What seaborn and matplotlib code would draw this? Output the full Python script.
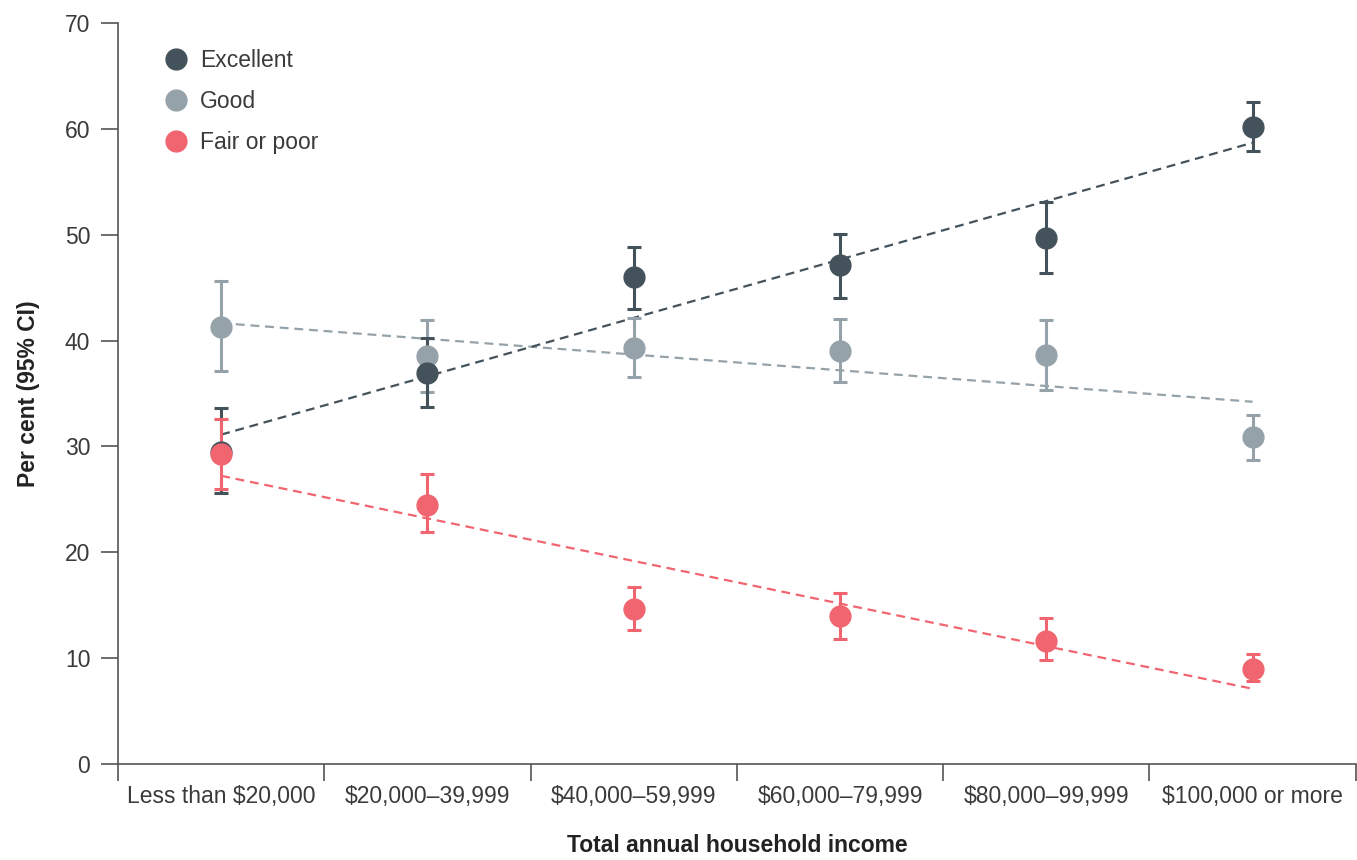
import matplotlib
matplotlib.use('Agg')
import matplotlib.pyplot as plt
from matplotlib.lines import Line2D
import seaborn as sns
import numpy as np
import pandas as pd

# Data
income_groups = ['Less than $20,000', '$20,000\u201339,999', '$40,000\u201359,999',
                 '$60,000\u201379,999', '$80,000\u201399,999', '$100,000 or more']

excellent = [29.5, 36.9, 46.0, 47.1, 49.7, 60.2]
excellent_lo = [25.6, 33.7, 43.0, 44.0, 46.4, 57.9]
excellent_hi = [33.6, 40.2, 48.8, 50.1, 53.1, 62.5]

good = [41.3, 38.5, 39.3, 39.0, 38.6, 30.9]
good_lo = [37.1, 35.1, 36.6, 36.1, 35.3, 28.7]
good_hi = [45.6, 41.9, 42.1, 42.0, 41.9, 33.0]

fair_poor = [29.3, 24.5, 14.6, 14.0, 11.6, 9.0]
fair_poor_lo = [26.0, 21.9, 12.7, 11.8, 9.8, 7.8]
fair_poor_hi = [32.6, 27.4, 16.7, 16.2, 13.8, 10.4]

series_names = ['Excellent', 'Good', 'Fair or poor']
colors = {'Excellent': '#44525c', 'Good': '#96a2aa', 'Fair or poor': '#f0656f'}

frames = []
for name, vals, lo, hi in [('Excellent', excellent, excellent_lo, excellent_hi),
                           ('Good', good, good_lo, good_hi),
                           ('Fair or poor', fair_poor, fair_poor_lo, fair_poor_hi)]:
    frames.append(pd.DataFrame({'pos': np.arange(len(income_groups)), 'income': income_groups,
                                'series': name, 'value': vals, 'lo': lo, 'hi': hi}))
df = pd.concat(frames, ignore_index=True)

sns.set_style('white')
plt.rcParams['font.family'] = ['Liberation Sans', 'DejaVu Sans']

fig = plt.figure(figsize=(13.57, 8.6), dpi=100)
ax = fig.add_axes([0.087, 0.1116, 0.912, 0.8617])

# draw order: Good, Excellent, Fair or poor (as in the reference)
for name in ['Good', 'Excellent', 'Fair or poor']:
    d = df[df['series'] == name]
    c = colors[name]
    sns.regplot(data=d, x='pos', y='value', ax=ax, scatter=False, ci=None, truncate=True,
                line_kws={'color': c, 'lw': 1.6, 'linestyle': (0, (4, 2.6)), 'zorder': 2})
    yerr = np.vstack([d['value'] - d['lo'], d['hi'] - d['value']])
    ax.errorbar(d['pos'], d['value'], yerr=yerr, fmt='o', color=c, ecolor=c,
                elinewidth=2.2, capsize=5, capthick=2.2, markersize=15, zorder=3)

ax.set_xlim(-0.5, len(income_groups) - 0.5)
ax.set_ylim(0, 70)
ax.set_yticks(range(0, 71, 10))
ax.set_xticks(range(len(income_groups)))
ax.set_xticklabels(income_groups)
ax.set_xticks(np.arange(-0.5, len(income_groups), 1.0), minor=True)

ax.tick_params(axis='x', which='major', length=0, pad=15, labelsize=16.5, labelcolor='#3a3a3a')
ax.tick_params(axis='x', which='minor', bottom=True, length=12, width=1.2, color='#555555',
               direction='out')
ax.tick_params(axis='y', length=12, width=1.2, color='#555555', pad=8,
               labelsize=16.5, labelcolor='#3a3a3a', direction='out', left=True)

sns.despine(ax=ax, top=True, right=True)
for s in ['left', 'bottom']:
    ax.spines[s].set_color('#555555')
    ax.spines[s].set_linewidth(1.2)

ax.set_xlabel('Total annual household income', fontsize=16.5, fontweight='bold',
              color='#222222', labelpad=19)
ax.set_ylabel('Per cent (95% CI)', fontsize=16.5, fontweight='bold', color='#222222', labelpad=18)

handles = [Line2D([], [], marker='o', linestyle='none', color=colors[n], markersize=15)
           for n in series_names]
ax.legend(handles, series_names, loc='upper left', bbox_to_anchor=(0.019, 0.993), frameon=False,
          fontsize=16.5, handletextpad=0.45, labelspacing=0.8, labelcolor='#3a3a3a',
          handlelength=1.2)

fig.savefig('out.png', dpi=100)
